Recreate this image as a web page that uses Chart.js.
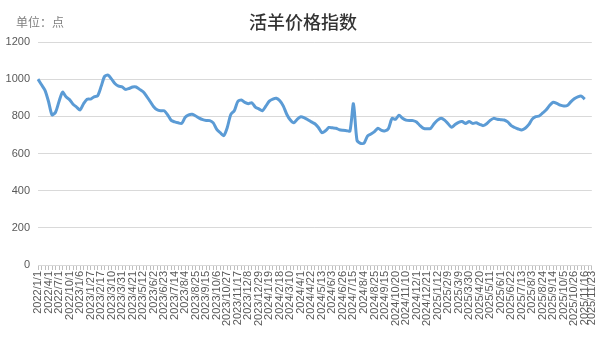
<!DOCTYPE html>
<html>
<head>
<meta charset="utf-8">
<script src="https://cdn.jsdelivr.net/npm/chart.js@4"></script>
<style>
  html, body { margin: 0; padding: 0; background: #fff; }
  #wrap { position: relative; width: 606px; height: 341px; }
  #title { position: absolute; left: 0; width: 606px; top: 8px; text-align: center;
    font-family: "Noto Sans CJK SC", sans-serif; font-size: 18px; font-weight: 500; color: #333; }
  #unit { position: absolute; left: 16px; top: 13px;
    font-family: "Noto Sans CJK SC", sans-serif; font-size: 12px; color: #7f7f7f; }
</style>
</head>
<body>
<div id="wrap">
  <canvas id="chart" width="606" height="341"></canvas>
  <div id="title">活羊价格指数</div>
  <div id="unit">单位：点</div>
</div>
<script>
const dates = [
  '2022/1/1','2022/2/1','2022/3/1','2022/4/1','2022/5/1','2022/6/1','2022/7/1','2022/8/1','2022/9/1','2022/10/1','2022/11/1','2022/12/1',
  '2023/1/6','2023/1/13','2023/1/20','2023/1/27','2023/2/3','2023/2/10','2023/2/17','2023/2/24','2023/3/3','2023/3/10','2023/3/17','2023/3/24',
  '2023/3/31','2023/4/7','2023/4/14','2023/4/21','2023/4/28','2023/5/5','2023/5/12','2023/5/19','2023/5/26','2023/6/2','2023/6/9','2023/6/16',
  '2023/6/23','2023/6/30','2023/7/7','2023/7/14','2023/7/21','2023/7/28','2023/8/4','2023/8/11','2023/8/18','2023/8/25','2023/9/1','2023/9/8',
  '2023/9/15','2023/9/22','2023/9/29','2023/10/6','2023/10/13','2023/10/20','2023/10/27','2023/11/3','2023/11/10','2023/11/17','2023/11/24','2023/12/1',
  '2023/12/8','2023/12/15','2023/12/22','2023/12/29','2024/1/5','2024/1/12','2024/1/19','2024/1/26','2024/2/2','2024/2/18','2024/2/25','2024/3/3',
  '2024/3/10','2024/3/17','2024/3/24','2024/4/1','2024/4/8','2024/4/15','2024/4/22','2024/4/29','2024/5/6','2024/5/13','2024/5/20','2024/5/27',
  '2024/6/3','2024/6/10','2024/6/17','2024/6/26','2024/7/1','2024/7/8','2024/7/15','2024/7/22','2024/7/29','2024/8/4','2024/8/11','2024/8/18',
  '2024/8/25','2024/9/1','2024/9/8','2024/9/15','2024/9/22','2024/10/13','2024/10/20','2024/10/27','2024/11/3','2024/11/10','2024/11/17','2024/11/24',
  '2024/12/1','2024/12/8','2024/12/15','2024/12/21','2024/12/28','2025/1/5','2025/1/12','2025/1/19','2025/1/26','2025/2/9','2025/2/16','2025/3/2',
  '2025/3/9','2025/3/16','2025/3/23','2025/3/30','2025/4/6','2025/4/13','2025/4/20','2025/4/27','2025/5/4','2025/5/11','2025/5/18','2025/5/25',
  '2025/6/1','2025/6/8','2025/6/15','2025/6/22','2025/6/29','2025/7/6','2025/7/13','2025/7/20','2025/7/27','2025/8/3','2025/8/10','2025/8/17',
  '2025/8/24','2025/8/31','2025/9/7','2025/9/14','2025/9/21','2025/9/28','2025/10/5','2025/10/12','2025/10/19','2025/10/26','2025/11/2','2025/11/9',
  '2025/11/16','','2025/11/23'
];

// index values (no value for the last two slots)
const values = [
  1000, 970, 940, 880, 808, 822, 880, 930, 905, 890, 865, 850,
  834, 868, 892, 893, 905, 910, 960, 1015, 1022, 1000, 975, 962,
  958, 945, 950, 958, 958, 945, 932, 908, 880, 852, 835, 830,
  830, 808, 778, 770, 765, 762, 795, 808, 811, 802, 790, 782,
  778, 777, 765, 730, 712, 696, 740, 810, 830, 880, 888, 875,
  868, 873, 850, 840, 830, 855, 882, 893, 897, 884, 855, 810,
  780, 765, 785, 798, 792, 782, 770, 760, 740, 712, 722, 740,
  738, 736, 728, 725, 723, 721, 868, 672, 655, 655, 694, 705,
  718, 736, 724, 722, 735, 789, 784, 806, 790, 780, 777, 777,
  770, 750, 735, 733, 735, 760, 780, 790, 780, 760, 741, 756,
  768, 772, 762, 772, 762, 765, 757, 750, 760, 778, 789, 784,
  782, 780, 770, 750, 740, 732, 727, 736, 755, 785, 798, 802,
  818, 835, 860, 876, 870, 860, 856, 858, 878, 895, 905, 909,
  892
];

const yTicks = [0, 200, 400, 600, 800, 1000, 1200];

const AXIS_FONT = { family: 'Liberation Sans', size: 11 };

new Chart(document.getElementById('chart'), {
  type: 'line',
  data: {
    labels: dates,
    datasets: [{
      data: values,
      borderColor: '#5b9bd5',
      borderWidth: 3,
      pointRadius: 0,
      tension: 0.25,
      fill: false,
    }]
  },
  options: {
    responsive: false,
    animation: false,
    layout: { padding: { top: 42, right: 4, left: 0, bottom: 0 } },
    plugins: { legend: { display: false }, tooltip: { enabled: false } },
    scales: {
      x: {
        offset: false,
        grid: { drawOnChartArea: false, drawTicks: true, tickLength: 5, color: '#bfbfbf' },
        border: { display: true, color: '#d9d9d9' },
        ticks: {
          autoSkip: false, minRotation: 90, maxRotation: 90, padding: 1,
          color: '#595959', font: AXIS_FONT,
          callback: (v, i) => (i % 3 === 0 || i === dates.length - 1) ? dates[i] : '',
        },
        afterFit: s => { s.height = 76; },
      },
      y: {
        min: yTicks[0], max: yTicks[yTicks.length - 1],
        afterBuildTicks: s => { s.ticks = yTicks.map(v => ({ value: v })); },
        grid: { color: '#d9d9d9', drawTicks: false },
        border: { display: false },
        ticks: { color: '#595959', font: AXIS_FONT, padding: 8, callback: v => String(v) },
        afterFit: s => { s.width = 38; },
      }
    }
  }
});
</script>
</body>
</html>
